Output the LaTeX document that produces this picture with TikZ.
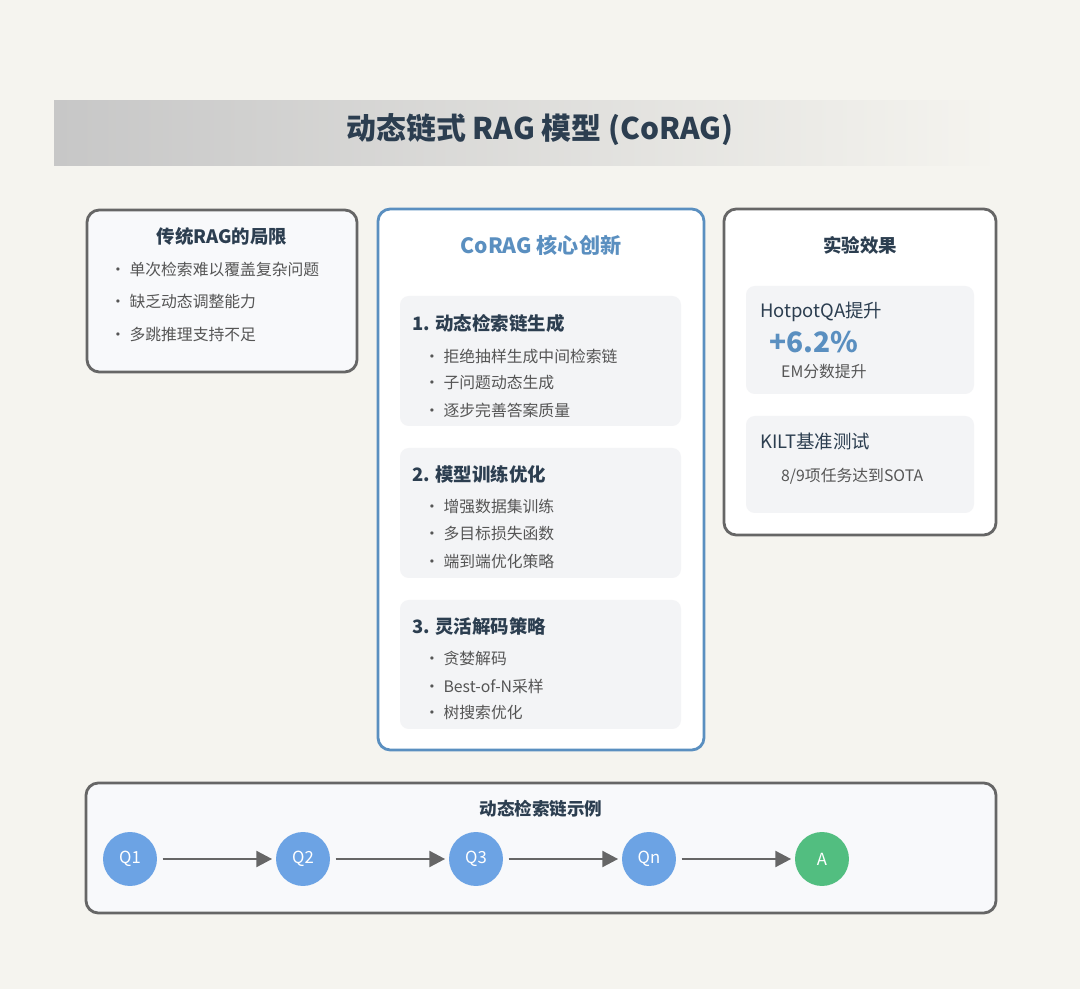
\documentclass[tikz,border=0pt]{standalone}
\usepackage{fontspec}
\setmainfont{Noto Sans CJK SC}
\usetikzlibrary{positioning,arrows.meta}
\definecolor{bgc}{HTML}{F5F4EF}
\definecolor{darkt}{HTML}{2C3E50}
\definecolor{greyt}{HTML}{555555}
\definecolor{edgec}{HTML}{666666}
\definecolor{bluec}{HTML}{5A8FC0}
\definecolor{panelc}{HTML}{F8F9FB}
\definecolor{subc}{HTML}{F3F4F6}
\definecolor{qblue}{HTML}{6CA3E4}
\definecolor{agreen}{HTML}{52BE80}
\tikzset{
  panel/.style={draw=edgec, line width=1.6pt, rounded corners=7pt, fill=panelc},
  subpanel/.style={fill=subc, rounded corners=5pt},
  heading/.style={font=\bfseries\fontsize{10.5}{13}\selectfont, text=darkt},
  item/.style={font=\fontsize{9}{11}\selectfont, text=greyt, anchor=west},
  qnode/.style={circle, fill=qblue, minimum size=1.08cm, text=white, font=\fontsize{9.5}{12}\selectfont},
  arrow/.style={draw=edgec, line width=1.6pt, shorten <=3pt, shorten >=2pt, -{Triangle[length=9pt,width=9pt]}}
}
\begin{document}
\begin{tikzpicture}[x=0.02cm,y=-0.02cm]
   \fill[bgc] (0,0) rectangle (1080,989);
   \useasboundingbox (0,0) rectangle (1080,989);
   % title
   \shade[left color=black!22, right color=bgc] (54,101) rectangle (1000,166);
   \node (title) at (540,130) [font=\bfseries\fontsize{17}{20}\selectfont, text=darkt] {动态链式 RAG 模型 (CoRAG)};
   % left panel
   \draw[panel] (87,210) rectangle (357,372);
   \node (limit) at (222,236) [heading] {传统RAG的局限};
   \node (l1) at (104,269) [item] {• 单次检索难以覆盖复杂问题};
   \node (l2) at (104,301) [item] {• 缺乏动态调整能力};
   \node (l3) at (104,334) [item] {• 多跳推理支持不足};
   % center panel
   \draw[panel, draw=bluec, fill=white] (378,209) rectangle (704,750);
   \node (core) at (541,245) [heading, text=bluec, font=\bfseries\fontsize{12}{15}\selectfont] {CoRAG 核心创新};
   \fill[subpanel] (400,296) rectangle (681,426);
   \fill[subpanel] (400,448) rectangle (681,578);
   \fill[subpanel] (400,600) rectangle (681,729);
   \node (h1) at (406,323) [heading, anchor=west] {1. 动态检索链生成};
   \node (a1) at (418,356) [item] {• 拒绝抽样生成中间检索链};
   \node (a2) at (418,383) [item] {• 子问题动态生成};
   \node (a3) at (418,410) [item] {• 逐步完善答案质量};
   \node (h2) at (406,474) [heading, anchor=west] {2. 模型训练优化};
   \node (b1) at (418,507) [item] {• 增强数据集训练};
   \node (b2) at (418,534) [item] {• 多目标损失函数};
   \node (b3) at (418,561) [item] {• 端到端优化策略};
   \node (h3) at (406,626) [heading, anchor=west] {3. 灵活解码策略};
   \node (c1) at (418,658) [item] {• 贪婪解码};
   \node (c2) at (418,686) [item] {• Best-of-N采样};
   \node (c3) at (418,713) [item] {• 树搜索优化};
   % right panel
   \draw[panel, fill=white] (724,209) rectangle (996,535);
   \node (result) at (860,245) [heading] {实验效果};
   \fill[subpanel] (746,286) rectangle (974,394);
   \fill[subpanel] (746,416) rectangle (974,513);
   \node (hq) at (754,312) [item, text=darkt, font=\fontsize{10.5}{13}\selectfont] {HotpotQA提升};
   \node (gain) at (814,342) [font=\bfseries\fontsize{16}{18}\selectfont, text=bluec] {+6.2\%};
   \node (em) at (775,372) [item] {EM分数提升};
   \node (kilt) at (754,441) [item, text=darkt, font=\fontsize{10.5}{13}\selectfont] {KILT基准测试};
   \node (sota) at (775,476) [item] {8/9项任务达到SOTA};
   % chain example
   \draw[panel] (86,783) rectangle (996,913);
   \node (chain) at (541,809) [heading, font=\bfseries\fontsize{10}{13}\selectfont] {动态检索链示例};
   \node (q1) at (130,859) [qnode] {Q1};
   \node (q2) at (303,859) [qnode] {Q2};
   \node (q3) at (476,859) [qnode] {Q3};
   \node (qn) at (649,859) [qnode] {Qn};
   \node (ans) at (822,859) [qnode, fill=agreen] {A};
   \draw[arrow] (q1) -- (q2);
   \draw[arrow] (q2) -- (q3);
   \draw[arrow] (q3) -- (qn);
   \draw[arrow] (qn) -- (ans);
\end{tikzpicture}
\end{document}
